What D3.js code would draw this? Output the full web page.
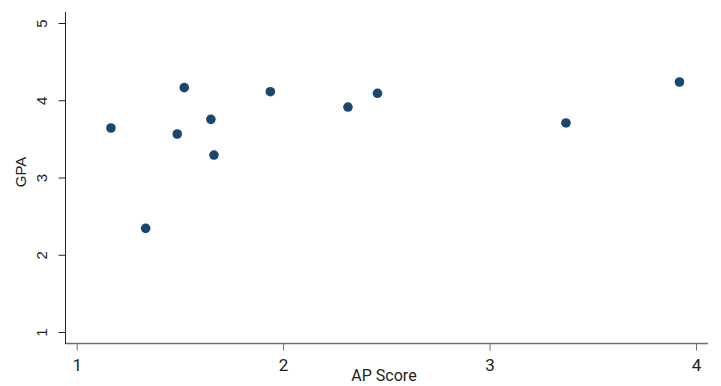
<!DOCTYPE html>
<html>
<head>
<meta charset="utf-8">
<script src="https://cdn.jsdelivr.net/npm/d3@7"></script>
<style>
  body { margin: 0; background: #fff; }
  svg { display: block; }
</style>
</head>
<body>
<div id="chart"></div>
<script>
// AP score vs GPA
var apScore = [1.166, 1.334, 1.487, 1.521, 1.650, 1.665, 1.938, 2.314, 2.457, 3.370, 3.920];
var gpa     = [3.641, 2.342, 3.563, 4.163, 3.753, 3.291, 4.111, 3.912, 4.090, 3.706, 4.236];
var xTicks = [1, 2, 3, 4];
var yTicks = [1, 2, 3, 4, 5];

var width = 721, height = 386;

var svg = d3.select("#chart").append("svg")
    .attr("width", width)
    .attr("height", height);

// scales
var x = d3.scaleLinear().domain([1, 4]).range([76.7, 696]);
var y = d3.scaleLinear().domain([1, 5]).range([332, 23]);

// x axis
var xAxis = svg.append("g")
    .attr("transform", "translate(0,343.5)")
    .call(d3.axisBottom(x).tickValues(xTicks).tickFormat(d3.format("d")).tickSize(7).tickPadding(8));
xAxis.select(".domain").attr("d", "M65,0H708").attr("stroke", "#6e6e6e").attr("stroke-width", 1.5);
xAxis.selectAll(".tick line").attr("stroke", "#6e6e6e");
xAxis.selectAll(".tick text")
    .attr("fill", "#222")
    .style("font-family", "Roboto, sans-serif")
    .style("font-size", "17px");

// y axis
var yAxis = svg.append("g")
    .attr("transform", "translate(65.5,0)")
    .call(d3.axisLeft(y).tickValues(yTicks).tickFormat(d3.format("d")).tickSize(7).tickPadding(0));
yAxis.select(".domain").attr("d", "M0,12V344").attr("stroke", "#222");
yAxis.selectAll(".tick line").attr("stroke", "#222");
yAxis.selectAll(".tick text")
    .attr("x", null).attr("dy", null)
    .attr("text-anchor", "middle")
    .attr("transform", "translate(-18.5,0) rotate(-90)")
    .attr("fill", "#222")
    .style("font-family", "'Liberation Sans', Arial, sans-serif")
    .style("font-size", "15px");

// axis titles
svg.append("text")
    .attr("transform", "translate(25.5,172) rotate(-90)")
    .attr("text-anchor", "middle")
    .attr("fill", "#222")
    .style("font-family", "'Liberation Sans', Arial, sans-serif")
    .style("font-size", "15px")
    .text("GPA");

svg.append("text")
    .attr("x", 384)
    .attr("y", 381)
    .attr("text-anchor", "middle")
    .attr("fill", "#222")
    .style("font-family", "Roboto, sans-serif")
    .style("font-size", "16px")
    .text("AP Score");

// points
svg.selectAll(".dot")
    .data(apScore)
    .enter()
    .append("circle")
    .attr("class", "dot")
    .attr("cx", function(d) { return x(d); })
    .attr("cy", function(d, i) { return y(gpa[i]); })
    .attr("r", 4.8)
    .attr("fill", "#1a476f");
</script>
</body>
</html>
